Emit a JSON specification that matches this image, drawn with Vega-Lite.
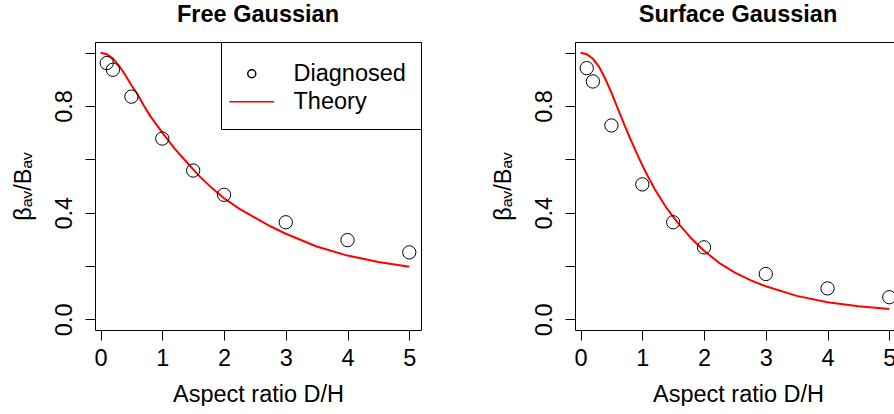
{
  "$schema": "https://vega.github.io/schema/vega-lite/v6.json",
  "background": "white",
  "padding": {"left": 10, "top": 2, "right": 0, "bottom": 0},
  "config": {
    "font": "Liberation Sans",
    "view": {"stroke": "black", "strokeWidth": 1},
    "axis": {"grid": false, "domain": false, "tickColor": "black", "tickSize": 10, "tickWidth": 1, "labelColor": "black", "labelFontSize": 23.5, "titleFontSize": 23.5, "titleFontWeight": "normal", "titleColor": "black", "labelFont": "Liberation Sans", "titleFont": "Liberation Sans"},
    "title": {"fontSize": 23.5, "fontWeight": "bold", "font": "Liberation Sans", "color": "black", "baseline": "alphabetic", "offset": 16}
  },
  "datasets": {
    "free_pts": [
      {"x": 0.1, "y": 0.961, "series": "Diagnosed"},
      {"x": 0.2, "y": 0.936, "series": "Diagnosed"},
      {"x": 0.5, "y": 0.835, "series": "Diagnosed"},
      {"x": 1, "y": 0.678, "series": "Diagnosed"},
      {"x": 1.5, "y": 0.558, "series": "Diagnosed"},
      {"x": 2, "y": 0.467, "series": "Diagnosed"},
      {"x": 3, "y": 0.364, "series": "Diagnosed"},
      {"x": 4, "y": 0.297, "series": "Diagnosed"},
      {"x": 5, "y": 0.251, "series": "Diagnosed"}
    ],
    "free_theory": [
      {"x": 0, "y": 1.0}, {"x": 0.1, "y": 0.994}, {"x": 0.2, "y": 0.978}, {"x": 0.3, "y": 0.951},
      {"x": 0.4, "y": 0.916}, {"x": 0.5, "y": 0.878}, {"x": 0.6, "y": 0.843}, {"x": 0.7, "y": 0.802},
      {"x": 0.8, "y": 0.764}, {"x": 0.9, "y": 0.732}, {"x": 1.0, "y": 0.700}, {"x": 1.2, "y": 0.640},
      {"x": 1.4, "y": 0.588}, {"x": 1.6, "y": 0.537}, {"x": 1.8, "y": 0.493}, {"x": 2.0, "y": 0.454},
      {"x": 2.25, "y": 0.414}, {"x": 2.5, "y": 0.381}, {"x": 2.75, "y": 0.349}, {"x": 3.0, "y": 0.321},
      {"x": 3.5, "y": 0.273}, {"x": 4.0, "y": 0.239}, {"x": 4.5, "y": 0.215}, {"x": 5.0, "y": 0.197}
    ],
    "surf_pts": [
      {"x": 0.1, "y": 0.942}, {"x": 0.2, "y": 0.892}, {"x": 0.5, "y": 0.727},
      {"x": 1, "y": 0.506}, {"x": 1.5, "y": 0.364}, {"x": 2, "y": 0.27},
      {"x": 3, "y": 0.17}, {"x": 4, "y": 0.116}, {"x": 5, "y": 0.083}
    ],
    "surf_theory": [
      {"x": 0, "y": 1.0}, {"x": 0.1, "y": 0.994}, {"x": 0.2, "y": 0.977}, {"x": 0.3, "y": 0.947},
      {"x": 0.4, "y": 0.902}, {"x": 0.5, "y": 0.850}, {"x": 0.6, "y": 0.792}, {"x": 0.7, "y": 0.735},
      {"x": 0.8, "y": 0.680}, {"x": 0.9, "y": 0.628}, {"x": 1.0, "y": 0.578}, {"x": 1.1, "y": 0.532},
      {"x": 1.2, "y": 0.489}, {"x": 1.4, "y": 0.415}, {"x": 1.6, "y": 0.355}, {"x": 1.8, "y": 0.302},
      {"x": 2.0, "y": 0.257}, {"x": 2.25, "y": 0.211}, {"x": 2.5, "y": 0.175}, {"x": 2.75, "y": 0.147},
      {"x": 3.0, "y": 0.124}, {"x": 3.5, "y": 0.088}, {"x": 4.0, "y": 0.064}, {"x": 4.5, "y": 0.049},
      {"x": 5.0, "y": 0.039}
    ]
  },
  "spacing": 68,
  "hconcat": [
    {
      "width": 326,
      "height": 288,
      "title": {"text": "Free Gaussian"},
      "encoding": {
        "x": {"field": "x", "type": "quantitative", "scale": {"domain": [-0.09, 5.19], "nice": false, "zero": false},
              "axis": {"values": [0, 1, 2, 3, 4, 5], "title": "Aspect ratio D/H", "labelBaseline": "alphabetic", "labelPadding": 25, "titleY": 71, "titleBaseline": "alphabetic", "labelFlush": false, "labelOverlap": false}},
        "y": {"field": "y", "type": "quantitative", "scale": {"domain": [-0.04, 1.04], "nice": false, "zero": false},
              "axis": {"values": [0, 0.2, 0.4, 0.6, 0.8, 1.0], "labelExpr": "datum.value == 0 ? '0.0' : datum.value == 0.4 ? '0.4' : datum.value == 0.8 ? '0.8' : ''", "labelAngle": -90, "labelAlign": "center", "labelBaseline": "alphabetic", "labelPadding": 14, "title": "βₐᵥ/Bₐᵥ", "titleX": -72, "titleBaseline": "middle", "titleAngle": -90, "labelFlush": false, "labelOverlap": false}}
      },
      "layer": [
        {"data": {"name": "free_theory"}, "mark": {"type": "line", "color": "red", "strokeWidth": 2}},
        {"data": {"name": "free_pts"}, "mark": {"type": "point", "filled": false, "size": 177, "strokeWidth": 1, "opacity": 1},
         "encoding": {
           "color": {"field": "series", "type": "nominal", "scale": {"domain": ["Diagnosed", "Theory"], "range": ["black", "red"]},
                     "legend": {"title": " ", "titleFontSize": 5, "titlePadding": 0, "orient": "none", "legendX": 126, "legendY": 0, "fillColor": "white", "strokeColor": "black", "padding": 15, "labelFontSize": 23.5, "labelFont": "Liberation Sans", "labelColor": "black", "labelOffset": 30, "symbolSize": 64, "symbolOffset": 4, "rowPadding": 3, "labelLimit": 300,
                                "encode": {"symbols": {"update": {"strokeWidth": {"signal": "datum.value === 'Theory' ? 2 : 1"}}}}}},
           "shape": {"field": "series", "type": "nominal", "scale": {"domain": ["Diagnosed", "Theory"], "range": ["circle", "M-5.6,0H5.6"]}}
         }}
      ]
    },
    {
      "width": 326,
      "height": 288,
      "title": {"text": "Surface Gaussian"},
      "encoding": {
        "x": {"field": "x", "type": "quantitative", "scale": {"domain": [-0.09, 5.19], "nice": false, "zero": false},
              "axis": {"values": [0, 1, 2, 3, 4, 5], "title": "Aspect ratio D/H", "labelBaseline": "alphabetic", "labelPadding": 25, "titleY": 71, "titleBaseline": "alphabetic", "labelFlush": false, "labelOverlap": false}},
        "y": {"field": "y", "type": "quantitative", "scale": {"domain": [-0.04, 1.04], "nice": false, "zero": false},
              "axis": {"values": [0, 0.2, 0.4, 0.6, 0.8, 1.0], "labelExpr": "datum.value == 0 ? '0.0' : datum.value == 0.4 ? '0.4' : datum.value == 0.8 ? '0.8' : ''", "labelAngle": -90, "labelAlign": "center", "labelBaseline": "alphabetic", "labelPadding": 14, "title": "βₐᵥ/Bₐᵥ", "titleX": -72, "titleBaseline": "middle", "titleAngle": -90, "labelFlush": false, "labelOverlap": false}}
      },
      "layer": [
        {"data": {"name": "surf_theory"}, "mark": {"type": "line", "color": "red", "strokeWidth": 2}},
        {"data": {"name": "surf_pts"}, "mark": {"type": "point", "filled": false, "size": 177, "strokeWidth": 1, "opacity": 1, "color": "black"}}
      ]
    }
  ]
}
